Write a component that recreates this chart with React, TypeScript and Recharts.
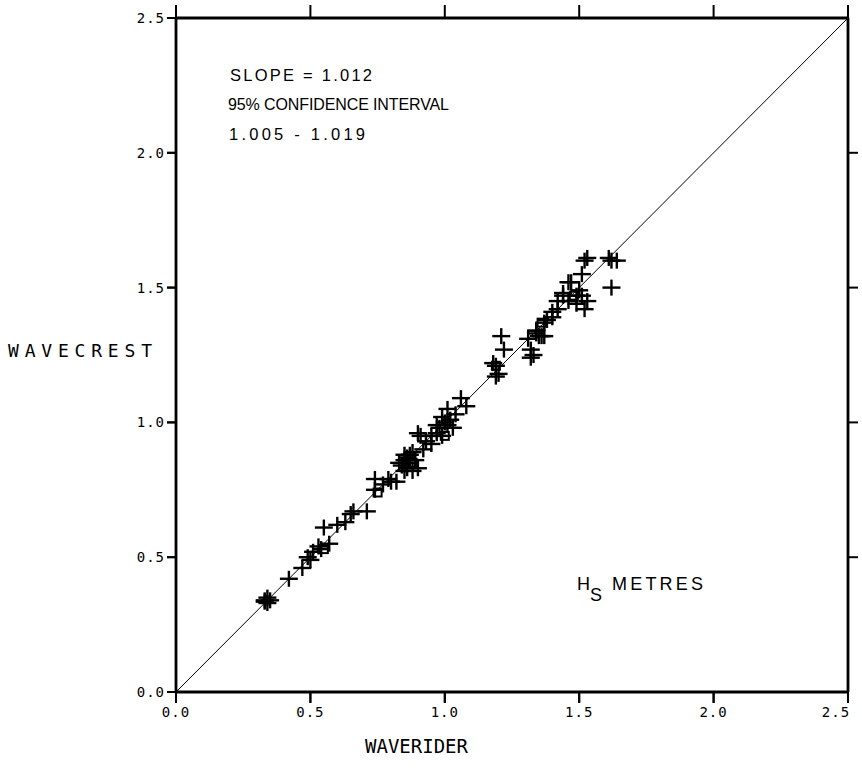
import React from 'react';
import { ScatterChart, Scatter, XAxis, YAxis, ReferenceLine } from 'recharts';

const xTicks = [0, 0.5, 1.0, 1.5, 2.0, 2.5];
const yTicks = [0, 0.5, 1.0, 1.5, 2.0, 2.5];
const rightTicks = [0.5, 1.0, 1.5, 2.0];

// Waverider Hs (x) vs Wavecrest Hs (y), crosses
const waveriderX = [
  0.33, 0.34, 0.34, 0.35, 0.33, 0.42, 0.47, 0.49, 0.50, 0.51, 0.53, 0.54, 0.57, 0.55, 0.60,
  0.63, 0.65, 0.66, 0.71, 0.74, 0.77, 0.74, 0.79, 0.80, 0.82, 0.83, 0.85, 0.86, 0.86, 0.87,
  0.87, 0.85, 0.88, 0.90, 0.88, 0.85, 0.84, 0.86, 0.89, 0.91, 0.90, 0.93, 0.92, 0.95, 0.95,
  0.97, 0.98, 0.99, 1.02, 1.03, 1.01, 1.06, 1.08, 0.99, 1.00, 1.01, 0.97, 1.04, 1.19, 1.19,
  1.20, 1.21, 1.22, 1.18, 1.32, 1.32, 1.31, 1.34, 1.35, 1.37, 1.38, 1.40, 1.42, 1.44, 1.46,
  1.53, 1.52, 1.61, 1.64, 1.62, 1.62, 1.51, 1.50, 1.47, 1.49, 1.51, 1.53, 1.52, 1.49, 1.46,
  1.44, 1.42, 1.40, 1.37, 1.34, 1.36, 1.33, 1.34,
];
const wavecrestY = [
  0.34, 0.33, 0.35, 0.34, 0.335, 0.42, 0.46, 0.50, 0.49, 0.52, 0.54, 0.53, 0.55, 0.61, 0.62,
  0.63, 0.66, 0.67, 0.67, 0.75, 0.77, 0.79, 0.79, 0.78, 0.78, 0.85, 0.86, 0.85, 0.87, 0.86,
  0.88, 0.82, 0.82, 0.83, 0.89, 0.88, 0.84, 0.83, 0.86, 0.95, 0.96, 0.93, 0.90, 0.92, 0.95,
  0.96, 0.98, 1.02, 1.01, 0.98, 1.05, 1.09, 1.06, 0.95, 1.00, 0.99, 0.99, 1.03, 1.21, 1.17,
  1.18, 1.32, 1.27, 1.22, 1.24, 1.27, 1.31, 1.34, 1.32, 1.32, 1.38, 1.41, 1.45, 1.48, 1.52,
  1.61, 1.60, 1.61, 1.60, 1.60, 1.50, 1.55, 1.49, 1.52, 1.47, 1.47, 1.45, 1.42, 1.44, 1.45,
  1.47, 1.42, 1.39, 1.37, 1.33, 1.32, 1.25, 1.34,
];

// squares
const squareX = [0.55, 0.75, 0.88, 1.00, 1.19, 1.36, 1.48];
const squareY = [0.53, 0.74, 0.85, 0.95, 1.21, 1.37, 1.47];

const crossData = waveriderX.map((x, i) => ({ x, y: wavecrestY[i] }));
const squareData = squareX.map((x, i) => ({ x, y: squareY[i] }));

const MONO = 'DejaVu Sans Mono';
const SANS = 'Liberation Sans, Arial, sans-serif';
const B_TICK = 11;
const L_TICK = 9;
const T_MARGIN = 2;

const Cross = (props: any) => {
  const { cx, cy } = props;
  if (cx == null || cy == null) return null;
  return (
    <g stroke="#000" strokeWidth={2.4}>
      <line x1={cx - 9} y1={cy} x2={cx + 9} y2={cy} />
      <line x1={cx} y1={cy - 8} x2={cx} y2={cy + 8} />
    </g>
  );
};

const Square = (props: any) => {
  const { cx, cy } = props;
  if (cx == null || cy == null) return null;
  return <rect x={cx - 4} y={cy - 4} width={8} height={8} fill="none" stroke="#000" strokeWidth={2} />;
};

const Hidden = () => <g />;
const NoTick = () => <g />;

const XTick = (props: any) => {
  const { x, y, payload } = props;
  const v = Number(payload.value);
  const shift = v >= 2.5 ? -12 : 0;
  return (
    <g>
      <line x1={x} y1={y - T_MARGIN - B_TICK} x2={x} y2={y - T_MARGIN} stroke="#000" strokeWidth={2} />
      <text x={x + shift} y={y} dy={12} textAnchor="middle" fontFamily={MONO} fontSize={14} letterSpacing={1} fill="#000">
        {v.toFixed(1)}
      </text>
    </g>
  );
};

const YTick = (props: any) => {
  const { x, y, payload } = props;
  const v = Number(payload.value);
  return (
    <g>
      <line x1={x + T_MARGIN} y1={y} x2={x + T_MARGIN + L_TICK} y2={y} stroke="#000" strokeWidth={2} />
      <text x={x} y={y} dy={5} textAnchor="end" fontFamily={MONO} fontSize={14} letterSpacing={1} fill="#000">
        {v.toFixed(1)}
      </text>
    </g>
  );
};

export default function App() {
  const axisLine = { stroke: '#000', strokeWidth: 2.8 };
  const tickLine = { stroke: '#000', strokeWidth: 2 };
  return (
    <div style={{ position: 'absolute', left: 0, top: 0, background: '#fff' }}>
      <ScatterChart width={862} height={776} margin={{ top: 0, right: 0, bottom: 0, left: 0 }}>
        <XAxis
          xAxisId="b"
          type="number"
          dataKey="x"
          domain={[0, 2.5]}
          ticks={xTicks}
          interval={0}
          orientation="bottom"
          height={84}
          tickSize={B_TICK}
          tickMargin={T_MARGIN}
          tick={<XTick />}
          axisLine={axisLine}
          tickLine={tickLine}
        />
        <XAxis
          xAxisId="t"
          type="number"
          dataKey="x"
          domain={[0, 2.5]}
          ticks={xTicks}
          interval={0}
          orientation="top"
          height={18}
          tickSize={13}
          tick={<NoTick />}
          axisLine={axisLine}
          tickLine={tickLine}
        />
        <YAxis
          yAxisId="l"
          type="number"
          dataKey="y"
          domain={[0, 2.5]}
          ticks={yTicks}
          interval={0}
          orientation="left"
          width={176}
          tickSize={L_TICK}
          tickMargin={T_MARGIN}
          tick={<YTick />}
          axisLine={axisLine}
          tickLine={tickLine}
        />
        <YAxis
          yAxisId="r"
          type="number"
          dataKey="y"
          domain={[0, 2.5]}
          ticks={rightTicks}
          interval={0}
          orientation="right"
          width={14}
          tickSize={10}
          tick={<NoTick />}
          axisLine={axisLine}
          tickLine={tickLine}
        />
        <ReferenceLine
          xAxisId="b"
          yAxisId="l"
          segment={[{ x: 0, y: 0 }, { x: 2.5, y: 2.5 }]}
          stroke="#000"
          strokeWidth={1}
          ifOverflow="visible"
        />
        <Scatter xAxisId="t" yAxisId="r" data={squareData} shape={<Hidden />} isAnimationActive={false} legendType="none" />
        <Scatter xAxisId="b" yAxisId="l" data={crossData} shape={<Cross />} isAnimationActive={false} />
        <Scatter xAxisId="b" yAxisId="l" data={squareData} shape={<Square />} isAnimationActive={false} />
        <text x={8} y={357} fontFamily={MONO} fontSize={18} textLength={144} lengthAdjust="spacing" fill="#000">
          WAVECREST
        </text>
        <text x={365} y={753} fontFamily={MONO} fontSize={19} textLength={103} lengthAdjust="spacingAndGlyphs" fill="#000">
          WAVERIDER
        </text>
        <text x={230} y={81} fontFamily={SANS} fontSize={16.5} textLength={142} lengthAdjust="spacing" fill="#000">
          SLOPE = 1.012
        </text>
        <text x={228} y={110} fontFamily={SANS} fontSize={16} textLength={221} lengthAdjust="spacing" fill="#000">
          95% CONFIDENCE INTERVAL
        </text>
        <text x={229} y={140} fontFamily={SANS} fontSize={16.5} textLength={136} lengthAdjust="spacing" fill="#000">
          1.005 - 1.019
        </text>
        <text x={577} y={590} fontFamily={SANS} fontSize={18} fill="#000">
          H
        </text>
        <text x={590} y={601} fontFamily={SANS} fontSize={18} fill="#000">
          S
        </text>
        <text x={612} y={590} fontFamily={SANS} fontSize={18} textLength={91} lengthAdjust="spacing" fill="#000">
          METRES
        </text>
      </ScatterChart>
    </div>
  );
}
